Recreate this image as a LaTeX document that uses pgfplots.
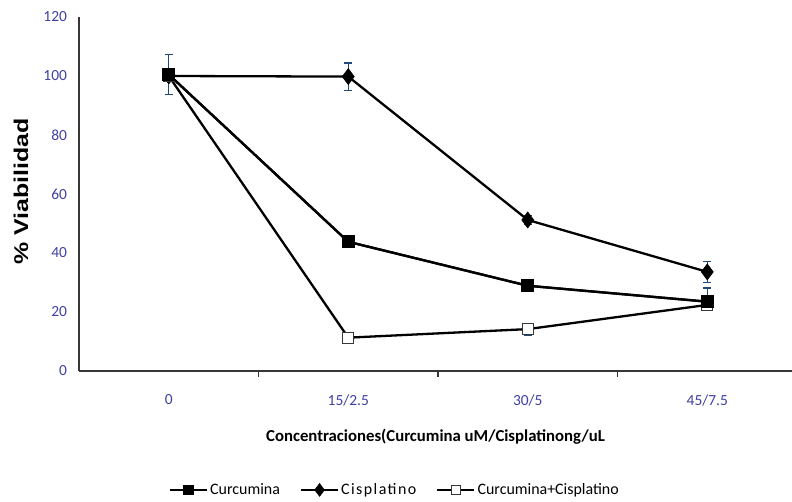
\documentclass[border=0pt]{standalone}
\usepackage{pgfplots}
\pgfplotsset{compat=1.18}
\usepackage{fontspec}
\setmainfont{Carlito}
\newfontfamily\arialfont{Liberation Sans}
\newfontfamily\spacedfont[LetterSpace=9]{Carlito}
\definecolor{ticklab}{RGB}{64,64,164}
\definecolor{errblue}{RGB}{31,73,125}
\definecolor{axgray}{RGB}{55,55,55}
\begin{document}
\begin{tikzpicture}
\path[use as bounding box] (-79bp,-131bp) rectangle (713bp,371bp);
\begin{axis}[
  at={(0,0)}, anchor=south west,
  scale only axis, width=713bp, height=354bp,
  xmin=-0.5, xmax=3.472, ymin=0, ymax=120,
  axis x line*=bottom, axis y line*=left,
  axis line style={axgray, line width=1.3bp, -},
  /pgf/number format/assume math mode=true,
  xtick={0,1,2,3}, xticklabels={0,15/2.5,30/5,45/7.5},
  major tick length=0pt,
  extra x ticks={0.5,1.5,2.5}, extra x tick labels={},
  extra x tick style={major tick length=6bp, tick align=outside, tick style={axgray, line width=1.2bp}},
  ytick={0,20,...,120},
  tick style={axgray},
  xticklabel style={ticklab, font=\fontsize{15.5}{18}\selectfont, anchor=center, yshift=-29bp},
  yticklabel style={ticklab, font=\fontsize{15.5}{18}\selectfont, anchor=east, xshift=-8.5bp},
  xlabel={\bfseries Concentraciones(Curcumina uM/Cisplatinong/uL},
  xlabel style={at={(axis description cs:0.5,-0.186)}, anchor=center, font=\fontsize{16.8}{19}\selectfont},
  ylabel={\scalebox{1.25}[1]{\arialfont\bfseries \% Viabilidad}},
  ylabel style={at={(axis description cs:-0.0813,0.508)}, anchor=center, font=\fontsize{20}{24}\selectfont},
  legend style={at={(0.443,-0.336)}, anchor=center, draw=none, fill=none, legend columns=3,
    font=\fontsize{16}{19}\selectfont,
    /tikz/every even column/.append style={column sep=18bp}},
  legend cell align=left,
  legend image code/.code={\draw[mark repeat=2,mark phase=2,#1, every mark/.append style={scale=0.8}] plot coordinates {(0bp,0bp) (18.5bp,0bp) (37bp,0bp)};},
  error bars/error bar style={errblue, line width=1.3bp},
  error bars/error mark options={rotate=90, mark size=4bp, line width=1.3bp, errblue},
]
\addplot[black, line width=2.3bp, mark=square*, mark size=6bp, mark options={solid, fill=black, line width=0.6bp},
  error bars/.cd, y dir=both, y explicit]
  coordinates {(0,100.5) +- (0,6.8) (1,43.8) +- (0,0) (2,28.9) +- (0,0) (3,23.5) += (0,4.6) -= (0,1)};
\addlegendentry{Curcumina}
\addplot[black, line width=2.3bp, mark=diamond*, mark size=8bp, mark options={solid, fill=black, line width=0.6bp},
  error bars/.cd, y dir=both, y explicit]
  coordinates {(0,100) +- (0,0) (1,99.8) +- (0,4.6) (2,51.2) +- (0,1.5) (3,33.6) +- (0,3.6)};
\addlegendentry{\spacedfont Cisplatino}
\addplot[black, line width=2.3bp, mark=square*, mark size=5.6bp, mark options={solid, fill=white, draw=axgray, line width=1bp},
  error bars/.cd, y dir=both, y explicit]
  coordinates {(0,100) +- (0,0) (1,11.3) +- (0,1.5) (2,14.2) +- (0,2) (3,22.4) +- (0,1.5)};
\addlegendentry{Curcumina+Cisplatino}
\addplot[black, line width=2.3bp, mark=square*, mark size=6bp, mark options={solid, fill=black, line width=0.6bp}, forget plot]
  coordinates {(0,100.5) (1,43.8) (2,28.9) (3,23.5)};
\end{axis}
\end{tikzpicture}
\end{document}
